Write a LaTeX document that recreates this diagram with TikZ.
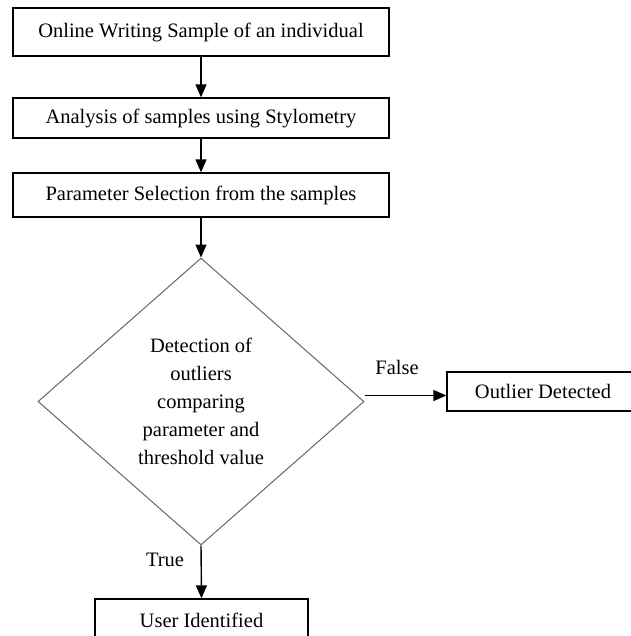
\documentclass[tikz,border=0pt]{standalone}
\usepackage{fontspec}
\setmainfont{Liberation Serif}
\usetikzlibrary{shapes.geometric,arrows.meta}
\begin{document}
\begin{tikzpicture}[x=1pt,y=1pt,
  every node/.style={font=\fontsize{20.5}{28}\selectfont},
  box/.style={draw=black,line width=1.3pt,rectangle,inner sep=0pt,align=center},
  dec/.style={draw=black!60,line width=1pt,diamond,inner sep=0pt,
    minimum width=326pt,minimum height=287pt,align=center},
  arr/.style={line width=1.4pt,-{Triangle[length=13pt,width=11pt]}},
  lbl/.style={inner sep=0pt}]
\useasboundingbox (0,0) rectangle (630,-636);
\node[box,minimum width=376pt,minimum height=48pt] (b1) at (201,-32) {Online Writing Sample of an individual};
\node[box,minimum width=376pt,minimum height=40pt] (b2) at (201,-118) {Analysis of samples using Stylometry};
\node[box,minimum width=376pt,minimum height=44pt] (b3) at (201,-195) {Parameter Selection from the samples};
\node[dec] (d) at (201,-401.5) {Detection of\\outliers\\comparing\\parameter and\\threshold value};
\node[box,minimum width=192pt,minimum height=39pt] (o) at (543,-391.5) {Outlier Detected};
\node[box,minimum width=213pt,minimum height=42pt] (u) at (201.5,-620) {User Identified};
\node[lbl] (fl) at (397,-367) {False};
\node[lbl] (tl) at (165,-560) {True};
\coordinate (fs) at ([yshift=6pt]d.east);
\draw[arr] (b1.south) -- (b2.north);
\draw[arr] (b2.south) -- (b3.north);
\draw[arr] (b3.south) -- (d.north);
\draw[arr] (fs) -- (fs -| o.west);
\draw[arr] (d.south) -- (u.north);
\end{tikzpicture}
\end{document}
